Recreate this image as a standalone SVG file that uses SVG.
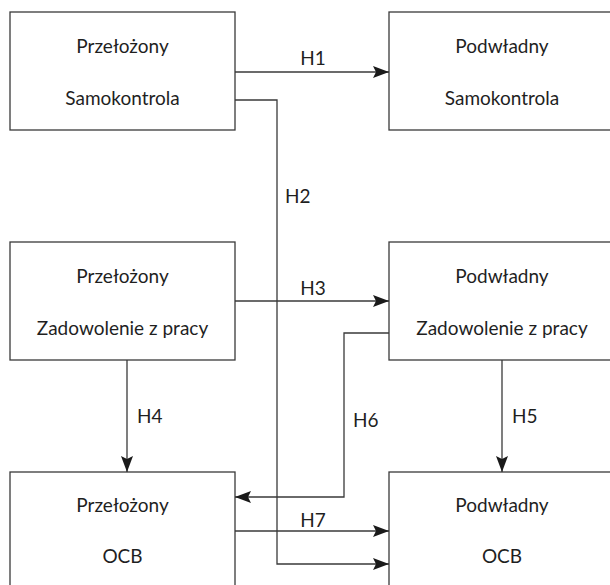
<svg xmlns="http://www.w3.org/2000/svg" width="610" height="585" viewBox="0 0 610 585">
<defs>
<style>
.box{fill:#fff;stroke:#3a3a3a;stroke-width:1.3}
.t{font-family:Lato,"Liberation Sans",sans-serif;font-size:19px;fill:#1f1f1f;text-anchor:middle}
.h{font-family:Lato,"Liberation Sans",sans-serif;font-size:19px;fill:#1f1f1f}
.c{fill:none;stroke:#3a3a3a;stroke-width:1.3}
</style>
<marker id="ah" viewBox="0 0 16 12" refX="16" refY="6" markerWidth="16" markerHeight="12" markerUnits="userSpaceOnUse" orient="auto">
<path d="M0,0 L16,6 L0,12 L3,6 Z" fill="#1a1a1a"/>
</marker>
</defs>
<rect width="610" height="585" fill="#fff"/>
<g id="n1"><rect class="box" x="10" y="12" width="225" height="118"/><text class="t" x="122.5" y="53">Przełożony</text><text class="t" x="122.5" y="105">Samokontrola</text></g>
<g id="n2"><rect class="box" x="389" y="12" width="226" height="118"/><text class="t" x="502" y="53">Podwładny</text><text class="t" x="502" y="105">Samokontrola</text></g>
<g id="n3"><rect class="box" x="10" y="242" width="225" height="118"/><text class="t" x="122.5" y="283">Przełożony</text><text class="t" x="122.5" y="335">Zadowolenie z pracy</text></g>
<g id="n4"><rect class="box" x="389" y="242" width="226" height="118"/><text class="t" x="502" y="283">Podwładny</text><text class="t" x="502" y="335">Zadowolenie z pracy</text></g>
<g id="n5"><rect class="box" x="10" y="472" width="225" height="120"/><text class="t" x="122.5" y="512">Przełożony</text><text class="t" x="122.5" y="563">OCB</text></g>
<g id="n6"><rect class="box" x="389" y="472" width="226" height="120"/><text class="t" x="502" y="512">Podwładny</text><text class="t" x="502" y="563">OCB</text></g>
<g id="connectors">
<path class="c" d="M235,72 H389" marker-end="url(#ah)"/>
<path class="c" d="M235,100 H277 V564 H389" marker-end="url(#ah)"/>
<path class="c" d="M235,301 H389" marker-end="url(#ah)"/>
<path class="c" d="M127,360 V472" marker-end="url(#ah)"/>
<path class="c" d="M502,360 V472" marker-end="url(#ah)"/>
<path class="c" d="M389,333 H344 V497 H235" marker-end="url(#ah)"/>
<path class="c" d="M235,531 H389" marker-end="url(#ah)"/>
<text class="t" x="313" y="65">H1</text>
<text class="h" x="285" y="203">H2</text>
<text class="t" x="313" y="295">H3</text>
<text class="h" x="137" y="423">H4</text>
<text class="h" x="512" y="423">H5</text>
<text class="h" x="353" y="427">H6</text>
<text class="t" x="313" y="527">H7</text>
</g>
</svg>
